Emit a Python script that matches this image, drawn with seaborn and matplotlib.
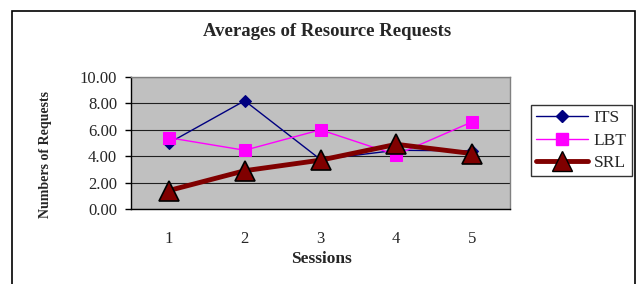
import seaborn as sns
import pandas as pd
import matplotlib.pyplot as plt
from matplotlib.lines import Line2D
from matplotlib.patches import Rectangle

sessions = [1, 2, 3, 4, 5]
its = [5.0, 8.2, 3.75, 4.45, 4.4]
lbt = [5.4, 4.45, 6.0, 4.1, 6.6]
srl = [1.4, 2.9, 3.7, 4.9, 4.2]
yticks = [0, 2, 4, 6, 8, 10]

df = pd.DataFrame({'Sessions': sessions, 'ITS': its, 'LBT': lbt, 'SRL': srl})

sns.set_theme(style='white')
plt.rcParams['font.family'] = ['Liberation Serif', 'DejaVu Serif']

fig = plt.figure(figsize=(6.4, 2.84), dpi=100)
ax = fig.add_axes([131 / 640, 1 - 209 / 284, 379 / 640, 132 / 284])
ax.set_facecolor('#c0c0c0')

sns.lineplot(data=df, x='Sessions', y='ITS', ax=ax, color='#000080', lw=1,
             marker='D', markersize=6, markeredgecolor='#000080', zorder=3)
sns.lineplot(data=df, x='Sessions', y='LBT', ax=ax, color='#ff00ff', lw=1,
             marker='s', markersize=8, markeredgecolor='#ff00ff', zorder=3)
sns.lineplot(data=df, x='Sessions', y='SRL', ax=ax, color='#ffff00', lw=1.5, zorder=4)
sns.lineplot(data=df, x='Sessions', y='SRL', ax=ax, color='#800000', lw=3.5,
             marker='^', markersize=14, markeredgecolor='black',
             markeredgewidth=1.2, zorder=5)

ax.set_xlim(0.5, 5.5)
ax.set_ylim(0, 10)
ax.set_yticks(yticks)
ax.set_yticklabels([f'{v:.2f}' for v in yticks], fontsize=12)
ax.set_xticks(sessions)
ax.set_xticklabels([str(s) for s in sessions], fontsize=12)
ax.set_xticks([0.5, 1.5, 2.5, 3.5, 4.5, 5.5], minor=True)
ax.tick_params(axis='x', which='major', length=0, pad=16)
ax.tick_params(axis='x', which='minor', length=4, width=1, color='black', direction='out')
ax.tick_params(axis='y', length=4, width=1, color='black', direction='out', left=True, pad=6)
ax.grid(axis='y', color='#202020', lw=0.8)
ax.set_axisbelow(True)
for side in ['top', 'right']:
    ax.spines[side].set_color('#808080')
    ax.spines[side].set_linewidth(1)
for side in ['left', 'bottom']:
    ax.spines[side].set_color('black')
    ax.spines[side].set_linewidth(1)
ax.set_xlabel('')
ax.set_ylabel('')

fig.text(327 / 640, 1 - 31 / 284, 'Averages of Resource Requests',
         ha='center', va='center', fontsize=13.5, fontweight='bold')
fig.text(321 / 640, 1 - 259 / 284, 'Sessions', ha='center', va='center',
         fontsize=12.5, fontweight='bold')
fig.text(45 / 640, 1 - 155 / 284, 'Numbers of Requests', ha='center', va='center',
         rotation=90, fontsize=10, fontweight='bold')

h_its = Line2D([], [], color='#000080', lw=1, marker='D', markersize=6)
h_lbt = Line2D([], [], color='#ff00ff', lw=1, marker='s', markersize=8)
h_srl = (Line2D([], [], color='#ffff00', lw=1.5),
         Line2D([], [], color='#800000', lw=3.5, marker='^', markersize=14,
                markeredgecolor='black'))
leg = fig.legend([h_its, h_lbt, h_srl], ['ITS', 'LBT', 'SRL'],
                 loc='upper left', bbox_to_anchor=(531 / 640, 1 - 105 / 284),
                 frameon=True, fancybox=False, fontsize=12.5, handlelength=3.0,
                 borderpad=0.3, labelspacing=0.35, handletextpad=0.3,
                 borderaxespad=0)
leg.get_frame().set_edgecolor('black')
leg.get_frame().set_linewidth(1)

fig.patches.append(Rectangle((12 / 640, -0.1), 623 / 640, 1.1 - 11 / 284,
                             transform=fig.transFigure, fill=False,
                             edgecolor='black', lw=1.2))

fig.savefig('out.png', dpi=100)
